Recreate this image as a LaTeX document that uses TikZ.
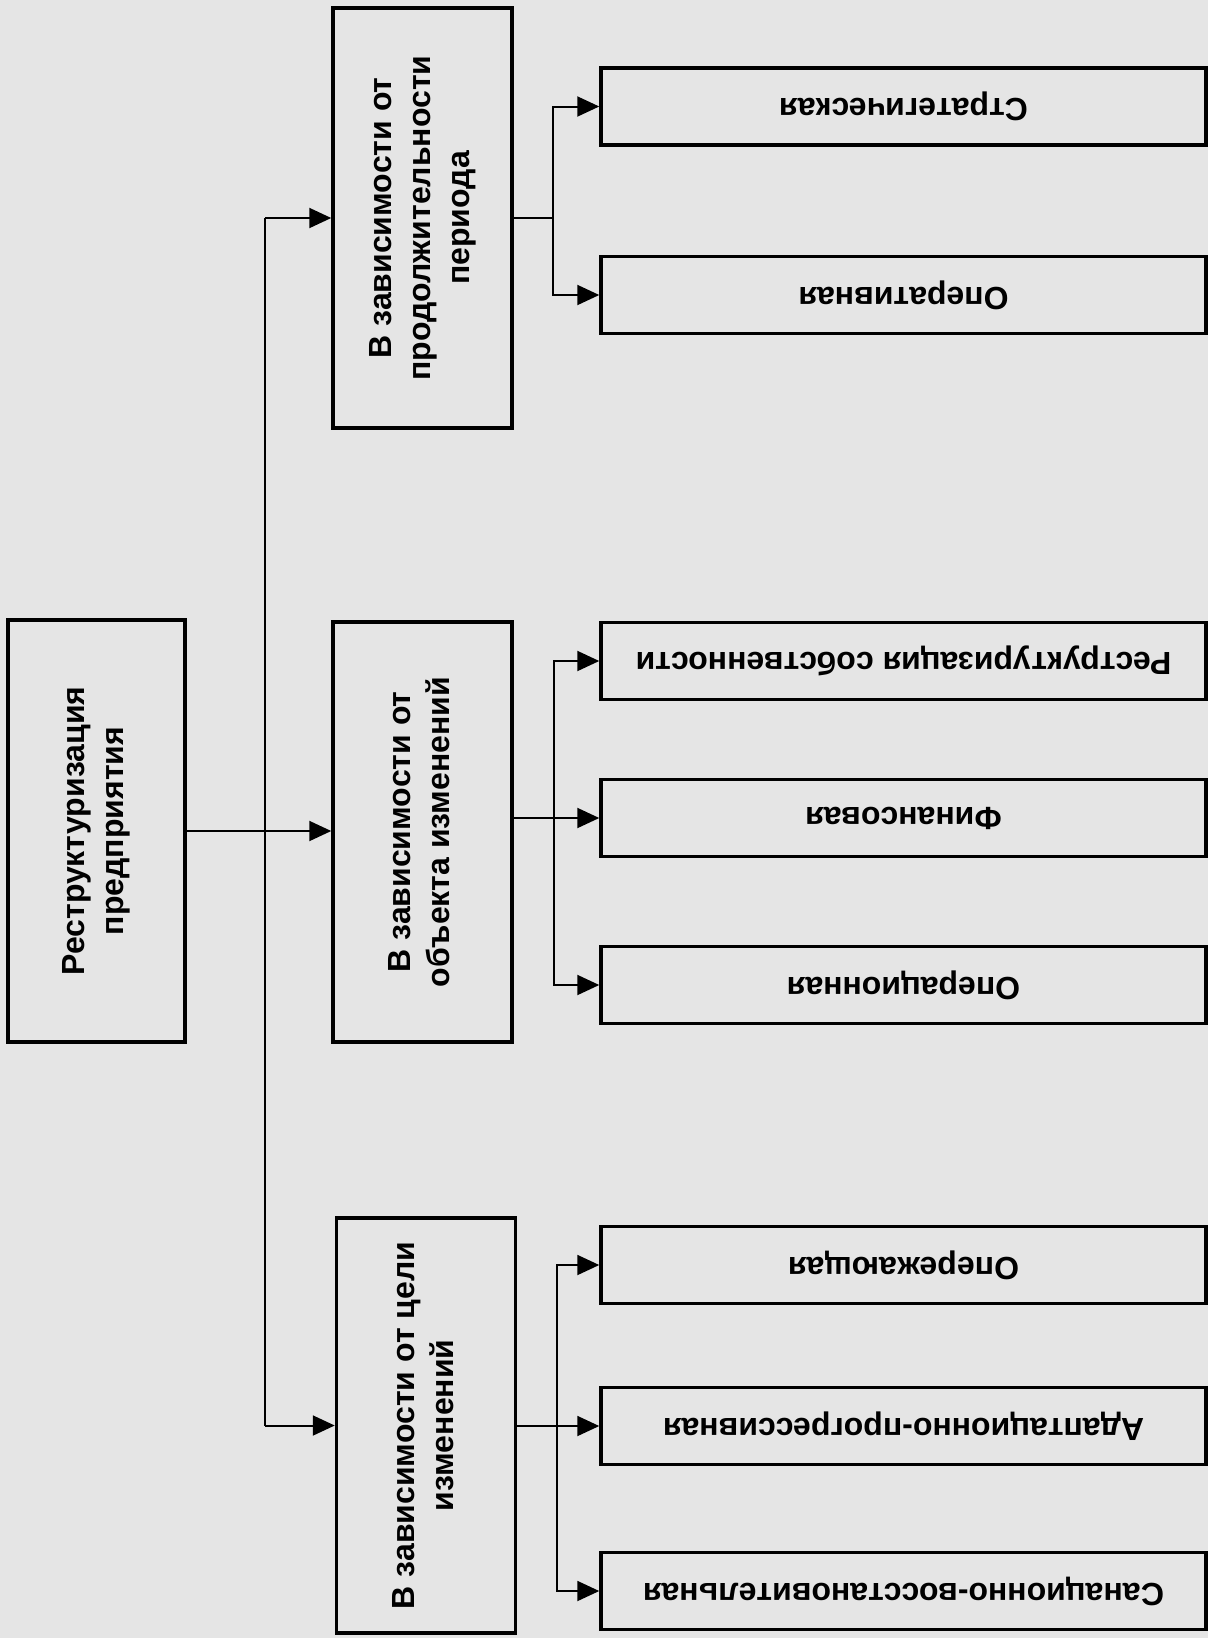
\documentclass[tikz,border=0pt]{standalone}
\usepackage{fontspec}
\setmainfont{Liberation Sans}
\usepackage{graphicx}
\usetikzlibrary{arrows.meta}
\newcommand{\vtxt}[1]{\rotatebox{90}{\begin{tabular}{@{}c@{}}#1\end{tabular}}}
\newcommand{\utxt}[1]{\rotatebox{180}{#1}}
\begin{document}
\begin{tikzpicture}[x=1pt,y=-1pt,
  box/.style={draw=black, line width=3.5pt, inner sep=0pt, align=center,
              font=\fontsize{32}{39}\selectfont\bfseries},
  midbox/.style={box, minimum width=179pt, minimum height=420pt},
  leaf/.style={box, minimum width=605pt, minimum height=77pt},
  conn/.style={line width=2pt},
  arr/.style={conn, -{Triangle[length=22pt,width=20pt]}}]
\fill[black!10] (0,0) rectangle (1208,1638);
% root
\node[box, minimum width=177pt, minimum height=422pt] (root) at (96.5,831)
  {\vtxt{Реструктуризация\\предприятия}};
% middle level
\node[midbox] (m1) at (422.5,218) {\vtxt{В зависимости от\\продолжительности\\периода}};
\node[midbox] (m2) at (422.5,832) {\vtxt{В зависимости от\\объекта изменений}};
\node[midbox, minimum height=415pt] (m3) at (426,1425.5) {\vtxt{В зависимости от цели\\изменений}};
% leaves
\node[leaf] (strat) at (903.5,106.5) {\utxt{Стратегическая}};
\node[leaf] (oper)  at (903.5,295)   {\utxt{Оперативная}};
\node[leaf] (own)   at (903.5,661)   {\utxt{Реструктуризация собственности}};
\node[leaf] (fin)   at (903.5,818)   {\utxt{Финансовая}};
\node[leaf] (opl)   at (903.5,985)   {\utxt{Операционная}};
\node[leaf] (antic) at (903.5,1265)  {\utxt{Опережающая}};
\node[leaf] (adapt) at (903.5,1426)  {\utxt{Адаптационно-прогрессивная}};
\node[leaf] (sanat) at (903.5,1591)  {\utxt{Санационно-восстановительная}};
% junction coordinates
\coordinate (t1) at (265,218);
\coordinate (t3) at (265,1425.5);
\coordinate (j1) at (553,218);
\coordinate (j2) at (554,818);
\coordinate (j3) at (557,1426);
% root connections
\draw[arr] (root.east) -- (root.east -| m2.west);
\draw[conn] (t1) -- (t3);
\draw[arr] (t1) -- (m1.west);
\draw[arr] (t3) -- (m3.west);
% m1 branches
\draw[conn] (m1.east) -- (j1);
\draw[arr] (j1) |- (strat.west);
\draw[arr] (j1) |- (oper.west);
% m2 branches
\draw[conn] (m2.east |- j2) -- (j2);
\draw[arr] (j2) -- (fin.west);
\draw[arr] (j2) |- (own.west);
\draw[arr] (j2) |- (opl.west);
% m3 branches
\draw[conn] (m3.east |- j3) -- (j3);
\draw[arr] (j3) -- (adapt.west);
\draw[arr] (j3) |- (antic.west);
\draw[arr] (j3) |- (sanat.west);
\end{tikzpicture}
\end{document}
